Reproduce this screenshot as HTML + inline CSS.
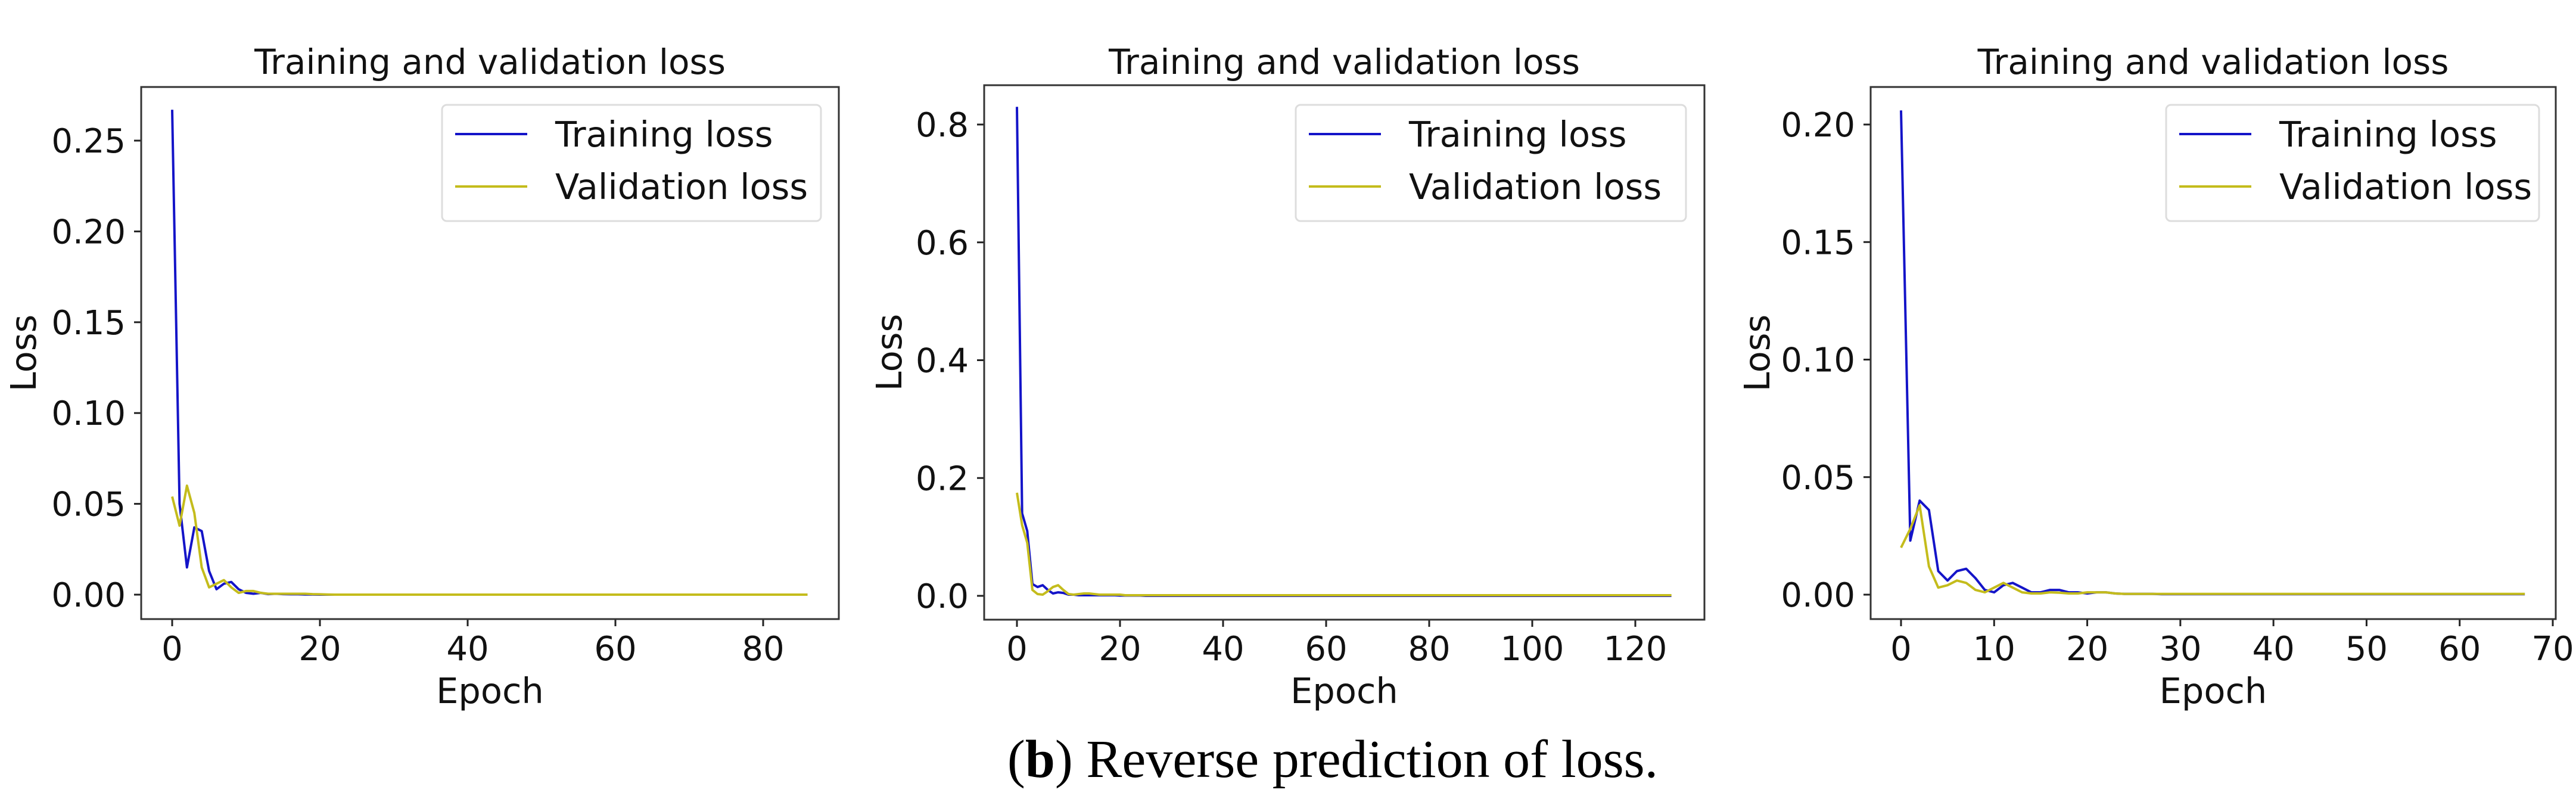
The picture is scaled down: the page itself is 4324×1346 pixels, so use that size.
<!DOCTYPE html>
<html><head><meta charset="utf-8"><style>
html,body{margin:0;padding:0;background:#fff;overflow:hidden;}
svg{display:block;}
text{font-family:"DejaVu Sans","Liberation Sans",sans-serif;fill:#111;}
</style></head><body>
<svg id="fig" width="4324" height="1346" viewBox="0 0 4324 1346" xmlns="http://www.w3.org/2000/svg">
<text x="2237" y="1304" text-anchor="middle" style="font-family:'Liberation Serif',serif;font-size:90px;fill:#000">(<tspan font-weight="bold">b</tspan>) Reverse prediction of loss.</text>
</svg>
<script>
const train1=[0.267,0.05,0.015,0.037,0.035,0.013,0.003,0.006,0.007,0.003,0.001,0.0005,0.001,0.0003,0.0005,0.0003,0.0002,0.0002,0.0001,0.0001,0,0,0,0,0,0,0,0,0,0,0,0,0,0,0,0,0,0,0,0,0,0,0,0,0,0,0,0,0,0,0,0,0,0,0,0,0,0,0,0,0,0,0,0,0,0,0,0,0,0,0,0,0,0,0,0,0,0,0,0,0,0,0,0,0,0,0];
const val1=[0.054,0.038,0.060,0.045,0.015,0.004,0.006,0.008,0.004,0.001,0.002,0.002,0.001,0.0005,0.0005,0.0005,0.0005,0.0005,0.0005,0.0003,0.0002,0.0001,0,0,0,0,0,0,0,0,0,0,0,0,0,0,0,0,0,0,0,0,0,0,0,0,0,0,0,0,0,0,0,0,0,0,0,0,0,0,0,0,0,0,0,0,0,0,0,0,0,0,0,0,0,0,0,0,0,0,0,0,0,0,0,0,0];
const train2=[0.83,0.14,0.11,0.02,0.015,0.018,0.01,0.004,0.006,0.005,0.002,0.002,0.001,0.001,0.001,0.001,0.001,0.001,0.001,0.001,0.0005,0.0005,0.0005,0.0005,0.0005,0,0,0,0,0,0,0,0,0,0,0,0,0,0,0,0,0,0,0,0,0,0,0,0,0,0,0,0,0,0,0,0,0,0,0,0,0,0,0,0,0,0,0,0,0,0,0,0,0,0,0,0,0,0,0,0,0,0,0,0,0,0,0,0,0,0,0,0,0,0,0,0,0,0,0,0,0,0,0,0,0,0,0,0,0,0,0,0,0,0,0,0,0,0,0,0,0,0,0,0,0,0,0];
const val2=[0.175,0.12,0.09,0.01,0.003,0.002,0.008,0.015,0.018,0.01,0.003,0.002,0.003,0.004,0.004,0.003,0.002,0.002,0.002,0.002,0.002,0.001,0.001,0.001,0.001,0.001,0.001,0.001,0.001,0.001,0.001,0.001,0.001,0.001,0.001,0.001,0.001,0.001,0.001,0.001,0.001,0.001,0.001,0.001,0.001,0.001,0.001,0.001,0.001,0.001,0.001,0.001,0.001,0.001,0.001,0.001,0.001,0.001,0.001,0.001,0.001,0.001,0.001,0.001,0.001,0.001,0.001,0.001,0.001,0.001,0.001,0.001,0.001,0.001,0.001,0.001,0.001,0.001,0.001,0.001,0.001,0.001,0.001,0.001,0.001,0.001,0.001,0.001,0.001,0.001,0.001,0.001,0.001,0.001,0.001,0.001,0.001,0.001,0.001,0.001,0.001,0.001,0.001,0.001,0.001,0.001,0.001,0.001,0.001,0.001,0.001,0.001,0.001,0.001,0.001,0.001,0.001,0.001,0.001,0.001,0.001,0.001,0.001,0.001,0.001,0.001,0.001,0.001];
const train3=[0.206,0.023,0.040,0.036,0.010,0.006,0.010,0.011,0.007,0.002,0.001,0.004,0.005,0.003,0.001,0.001,0.002,0.002,0.001,0.001,0.0005,0.001,0.001,0.0005,0.0003,0.0003,0.0003,0.0003,0.0002,0.0002,0.0002,0.0002,0.0002,0.0002,0.0002,0.0002,0.0002,0.0002,0.0002,0.0002,0.0002,0.0002,0.0002,0.0002,0.0002,0.0002,0.0002,0.0002,0.0002,0.0002,0.0002,0.0002,0.0002,0.0002,0.0002,0.0002,0.0002,0.0002,0.0002,0.0002,0.0002,0.0002,0.0002,0.0002,0.0002,0.0002,0.0002,0.0002];
const val3=[0.020,0.028,0.038,0.012,0.003,0.004,0.006,0.005,0.002,0.001,0.003,0.005,0.003,0.001,0.0005,0.0005,0.001,0.0008,0.0005,0.0005,0.001,0.001,0.001,0.0005,0.0003,0.0003,0.0003,0.0003,0.0003,0.0003,0.0003,0.0003,0.0003,0.0003,0.0003,0.0003,0.0003,0.0003,0.0003,0.0003,0.0003,0.0003,0.0003,0.0003,0.0003,0.0003,0.0003,0.0003,0.0003,0.0003,0.0003,0.0003,0.0003,0.0003,0.0003,0.0003,0.0003,0.0003,0.0003,0.0003,0.0003,0.0003,0.0003,0.0003,0.0003,0.0003,0.0003,0.0003];
const yTicks1=[0,0.05,0.10,0.15,0.20,0.25];
const yLabels1=["0.00","0.05","0.10","0.15","0.20","0.25"];
const xTicks1=[0,20,40,60,80];
const yTicks2=[0,0.2,0.4,0.6,0.8];
const yLabels2=["0.0","0.2","0.4","0.6","0.8"];
const xTicks2=[0,20,40,60,80,100,120];
const yTicks3=[0,0.05,0.10,0.15,0.20];
const yLabels3=["0.00","0.05","0.10","0.15","0.20"];
const xTicks3=[0,10,20,30,40,50,60,70];

const NS="http://www.w3.org/2000/svg";
const fig=document.getElementById('fig');
function mk(tag,attrs,parent){const e=document.createElementNS(NS,tag);for(const k in attrs)e.setAttribute(k,attrs[k]);parent.appendChild(e);return e;}

function panel(cfg,train,val,yT,yL,xT){
  const g=mk('g',{},fig);
  
  
  const xs=v=>cfg.x0px+(v-cfg.x0v)*(cfg.x1px-cfg.x0px)/(cfg.x1v-cfg.x0v);
  const ys=v=>cfg.y0px+(v-cfg.y0v)*(cfg.y1px-cfg.y0px)/(cfg.y1v-cfg.y0v);
  const L=cfg.L,R=cfg.R,T=cfg.T,B=cfg.B;
  const t=mk('text',{x:(L+R)/2,y:124,'text-anchor':'middle','font-size':'58'},g);
  t.textContent='Training and validation loss';
  
  
  yT.forEach((v,i)=>{
    const y=ys(v);
    const tk=mk('line',{x1:L-12,x2:L,y1:y,y2:y,stroke:'#222','stroke-width':3},g);
    
    
    const lb=mk('text',{x:L-26,y:y+20,'text-anchor':'end','font-size':'56'},g);
    lb.textContent=yL[i];
    
    
  });
  xT.forEach(v=>{
    const x=xs(v);
    const tk=mk('line',{x1:x,x2:x,y1:B,y2:B+12,stroke:'#222','stroke-width':3},g);
    
    
    const lb=mk('text',{x:x,y:1108,'text-anchor':'middle','font-size':'56'},g);
    lb.textContent=String(v);
    
    
  });
  const xl=mk('text',{x:(L+R)/2,y:1180,'text-anchor':'middle','font-size':'59'},g);
  xl.textContent='Epoch';
  
  
  const yl=mk('text',{x:0,y:0,'text-anchor':'middle','font-size':'59',transform:`translate(${cfg.ylx},${(T+B)/2}) rotate(-90)`},g);
  yl.textContent='Loss';
  
  
  const pts=a=>a.map((v,i)=>xs(i).toFixed(1)+','+ys(v).toFixed(1)).join(' ');
  const pt=mk('polyline',{points:pts(train),fill:'none',stroke:'#1414c8','stroke-width':4,'stroke-linejoin':'round'},g);
  
  
  const pv=mk('polyline',{points:pts(val),fill:'none',stroke:'#c4bc1c','stroke-width':4,'stroke-linejoin':'round'},g);
  
  
  const fr=mk('rect',{x:L,y:T,width:R-L,height:B-T,fill:'none',stroke:'#333','stroke-width':3},g);
  
  
  const lg=mk('g',{},g);
  
  
  mk('rect',{x:cfg.lgx,y:176,width:cfg.lgw,height:195,rx:8,fill:'#fff',stroke:'#ddd','stroke-width':3},lg);
  const rows=[['Training loss','#1414c8',225],['Validation loss','#c4bc1c',313]];
  rows.forEach(r=>{
    const le=mk('g',{},lg);
    
    
    mk('line',{x1:cfg.lgx+22,x2:cfg.lgx+143,y1:r[2],y2:r[2],stroke:r[1],'stroke-width':4},le);
    const tx=mk('text',{x:cfg.lgx+190,y:r[2]+21,'font-size':'59'},le);
    tx.textContent=r[0];
  });
}
panel({id:'a',L:237,R:1408,T:146,B:1039,x0v:0,x0px:289,x1v:80,x1px:1281,y0v:0,y0px:998,y1v:0.25,y1px:236,ylx:60,lgx:742,lgw:636},train1,val1,yTicks1,yLabels1,xTicks1);
panel({id:'b',L:1652,R:2861,T:143,B:1040,x0v:0,x0px:1707,x1v:120,x1px:2745,y0v:0,y0px:1000,y1v:0.8,y1px:209,ylx:1513,lgx:2175,lgw:655},train2,val2,yTicks2,yLabels2,xTicks2);
panel({id:'c',L:3140,R:4290,T:146,B:1039,x0v:0,x0px:3191,x1v:70,x1px:4285,y0v:0,y0px:998,y1v:0.20,y1px:209,ylx:2970,lgx:3636,lgw:626},train3,val3,yTicks3,yLabels3,xTicks3);
</script>
</body></html>
